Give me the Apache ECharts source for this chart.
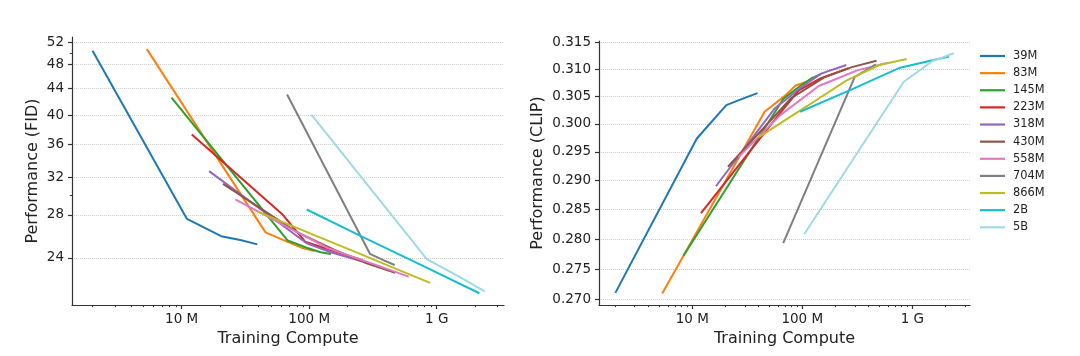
<!DOCTYPE html>
<html><head><meta charset="utf-8">
<script src="https://cdn.jsdelivr.net/npm/echarts@6/dist/echarts.min.js"></script>
<style>html,body{margin:0;padding:0;background:#fff}#c{width:1080px;height:356px}</style>
</head><body><div id="c"></div>
<script>
// ---- data ----
const seriesNames = ['39M','83M','145M','223M','318M','430M','558M','704M','866M','2B','5B'];
const seriesColors = ['#1f77b4','#ff7f0e','#2ca02c','#d62728','#9467bd','#8c564b','#e377c2','#7f7f7f','#bcbd22','#17becf','#9edae5'];

const compute39M = [2.0e6, 1.10e7, 2.04e7, 2.88e7, 3.92e7];
const fid39M     = [50.4, 27.6, 25.95, 25.6, 25.2];
const clip39M    = [0.2711, 0.2974, 0.3034, 0.3046, 0.3056];

const compute83M = [5.33e6, 4.54e7, 6.84e7, 8.71e7, 1.10e8];
const fid83M     = [50.7, 26.3, 25.4, 24.9, 24.6];
const clip83M    = [0.2710, 0.3022, 0.3050, 0.3070, 0.3077];

const compute145M = [8.32e6, 6.76e7, 9.55e7, 1.23e8, 1.48e8];
const fid145M     = [42.6, 25.55, 24.9, 24.5, 24.35];
const clip145M    = [0.2772, 0.3046, 0.3069, 0.3084, 0.3091];

const compute223M = [1.20e7, 6.12e7, 9.29e7, 1.46e8, 2.63e8];
const fid223M     = [37.35, 28.1, 25.45, 24.7, 23.8];
const clip223M    = [0.2844, 0.3017, 0.3061, 0.3083, 0.3102];

const compute318M = [1.64e7, 5.62e7, 9.55e7, 1.48e8, 2.51e8];
const fid318M     = [32.75, 27.35, 25.3, 24.5, 23.75];
const clip318M    = [0.2890, 0.3028, 0.3065, 0.3092, 0.3108];

const compute430M = [2.11e7, 7.94e7, 1.58e8, 2.82e8, 4.73e8];
const fid430M     = [31.3, 26.35, 24.7, 23.55, 22.75];
const clip430M    = [0.2924, 0.3047, 0.3085, 0.3104, 0.3116];

const compute558M = [2.63e7, 6.31e7, 1.41e8, 3.16e8, 6.03e8];
const fid558M     = [29.6, 27.0, 24.85, 23.5, 22.45];
const clip558M    = [0.2941, 0.3016, 0.3069, 0.3098, 0.3112];

const compute704M = [6.71e7, 3.0e8, 3.85e8, 4.68e8];
const fid704M     = [43.1, 24.35, 23.8, 23.4];
const clip704M    = [0.2793, 0.3086, 0.3099, 0.3109];

const compute866M = [3.99e7, 1.12e8, 2.51e8, 5.01e8, 8.89e8];
const fid866M     = [28.3, 26.0, 24.35, 23.0, 21.95];
const clip866M    = [0.2976, 0.3033, 0.3079, 0.3108, 0.3119];

const compute2B = [9.55e7, 2.82e8, 7.73e8, 2.16e9];
const fid2B     = [28.55, 25.7, 23.35, 21.15];
const clip2B    = [0.3022, 0.3063, 0.3103, 0.3124];

const compute5B = [1.04e8, 8.36e8, 1.52e9, 2.38e9];
const fid5B     = [40.1, 23.9, 22.4, 21.3];
const clip5B    = [0.2808, 0.3077, 0.3115, 0.3130];

const xTickValues = [1e7, 1e8, 1e9];
const xTickLabels = ['10 M', '100 M', '1 G'];
const xMinorTicks = [2e6,3e6,4e6,5e6,6e6,7e6,8e6,9e6,2e7,3e7,4e7,5e7,6e7,7e7,8e7,9e7,2e8,3e8,4e8,5e8,6e8,7e8,8e8,9e8,2e9,3e9];
const fidTicks = [24, 28, 32, 36, 40, 44, 48, 52];
const fidMinorTicks = [30, 50];
const clipTicks = [0.270, 0.275, 0.280, 0.285, 0.290, 0.295, 0.300, 0.305, 0.310, 0.315];

// ---- build ----
const computeArr = [compute39M, compute83M, compute145M, compute223M, compute318M, compute430M, compute558M, compute704M, compute866M, compute2B, compute5B];
const fidArr = [fid39M, fid83M, fid145M, fid223M, fid318M, fid430M, fid558M, fid704M, fid866M, fid2B, fid5B];
const clipArr = [clip39M, clip83M, clip145M, clip223M, clip318M, clip430M, clip558M, clip704M, clip866M, clip2B, clip5B];

const FONT = 'DejaVu Sans';
const axisColor = '#333';
const textColor = '#222';

function xMain(grid, min, max) {
  return {
    type: 'log', logBase: 10, gridIndex: grid, min: min, max: max, position: 'bottom',
    axisLine: {show: true, onZero: false, lineStyle: {color: axisColor, width: 1.2}},
    axisTick: {show: true, length: 4, customValues: xTickValues, lineStyle: {color: axisColor, width: 1.2}},
    axisLabel: {show: true, customValues: xTickValues, margin: 7, fontSize: 13.5, color: textColor, fontFamily: FONT,
      formatter: v => { for (let i = 0; i < xTickValues.length; i++) if (Math.abs(v / xTickValues[i] - 1) < 1e-6) return xTickLabels[i]; return ''; }},
    splitLine: {show: false}, minorTick: {show: false}, minorSplitLine: {show: false},
    name: 'Training Compute', nameLocation: 'middle', nameGap: 24,
    nameTextStyle: {fontSize: 16, color: textColor, fontFamily: FONT}
  };
}
function xMinor(grid, min, max) {
  return {
    type: 'log', logBase: 10, gridIndex: grid, min: min, max: max, position: 'bottom', offset: 0,
    axisLine: {show: false, onZero: false},
    axisTick: {show: true, length: 2.2, customValues: xMinorTicks, lineStyle: {color: axisColor, width: 1}},
    axisLabel: {show: false}, splitLine: {show: false}
  };
}

const option = {
  animation: false,
  backgroundColor: '#ffffff',
  textStyle: {fontFamily: FONT},
  grid: [
    {left: 72, top: 37, width: 432, height: 268},
    {left: 599, top: 41, width: 371, height: 264}
  ],
  xAxis: [
    xMain(0, 1.38e6, 3.37e9),
    xMinor(0, 1.38e6, 3.37e9),
    xMain(1, 1.42e6, 3.345e9),
    xMinor(1, 1.42e6, 3.345e9)
  ],
  yAxis: [
    {
      type: 'log', logBase: 10, gridIndex: 0, min: 20.28, max: 52.95, position: 'left',
      axisLine: {show: true, onZero: false, lineStyle: {color: axisColor, width: 1.2}},
      axisTick: {show: true, length: 4, customValues: fidTicks, lineStyle: {color: axisColor, width: 1.2}},
      axisLabel: {show: true, customValues: fidTicks, margin: 8, fontSize: 13.5, color: textColor, fontFamily: FONT,
        formatter: v => String(Math.round(v))},
      splitLine: {show: true, lineStyle: {type: 'dotted', color: '#cfcfcf', width: 1}},
      minorTick: {show: false},
      name: 'Performance (FID)', nameLocation: 'middle', nameGap: 31, nameRotate: 90,
      nameTextStyle: {fontSize: 16, color: textColor, fontFamily: FONT}
    },
    {
      type: 'log', logBase: 10, gridIndex: 0, min: 20.28, max: 52.95, position: 'left', offset: 0,
      axisLine: {show: false, onZero: false},
      axisTick: {show: true, length: 2.2, customValues: fidMinorTicks, lineStyle: {color: axisColor, width: 1}},
      axisLabel: {show: false}, splitLine: {show: false}
    },
    {
      type: 'log', logBase: 10, gridIndex: 1, min: 0.26914, max: 0.3153, position: 'left',
      axisLine: {show: true, onZero: false, lineStyle: {color: axisColor, width: 1.2}},
      axisTick: {show: true, length: 4, customValues: clipTicks, lineStyle: {color: axisColor, width: 1.2}},
      axisLabel: {show: true, customValues: clipTicks, margin: 8, fontSize: 13.5, color: textColor, fontFamily: FONT,
        formatter: v => v.toFixed(3)},
      splitLine: {show: true, lineStyle: {type: 'dotted', color: '#cfcfcf', width: 1}},
      minorTick: {show: false},
      name: 'Performance (CLIP)', nameLocation: 'middle', nameGap: 53, nameRotate: 90,
      nameTextStyle: {fontSize: 16, color: textColor, fontFamily: FONT}
    }
  ],
  legend: {
    orient: 'vertical', left: 980, top: 50, padding: 0,
    icon: 'rect', itemWidth: 25, itemHeight: 2.2, itemGap: 5.13,
    data: seriesNames,
    textStyle: {fontSize: 11.4, lineHeight: 12, color: textColor, fontFamily: FONT, padding: [0, 0, 0, 3]}
  },
  series: []
};

seriesNames.forEach((name, i) => {
  const common = {
    name: name, type: 'line', symbol: 'none', showSymbol: false,
    lineStyle: {width: 2, color: seriesColors[i]}, itemStyle: {color: seriesColors[i]},
    emphasis: {disabled: true}, z: 2 + i, silent: true
  };
  option.series.push(Object.assign({}, common, {
    xAxisIndex: 0, yAxisIndex: 0,
    data: computeArr[i].map((c, k) => [c, fidArr[i][k]])
  }));
  option.series.push(Object.assign({}, common, {
    xAxisIndex: 2, yAxisIndex: 2,
    data: computeArr[i].map((c, k) => [c, clipArr[i][k]])
  }));
});

const chart = echarts.init(document.getElementById('c'), null, {renderer: 'canvas'});
chart.setOption(option);
</script>
</body></html>
